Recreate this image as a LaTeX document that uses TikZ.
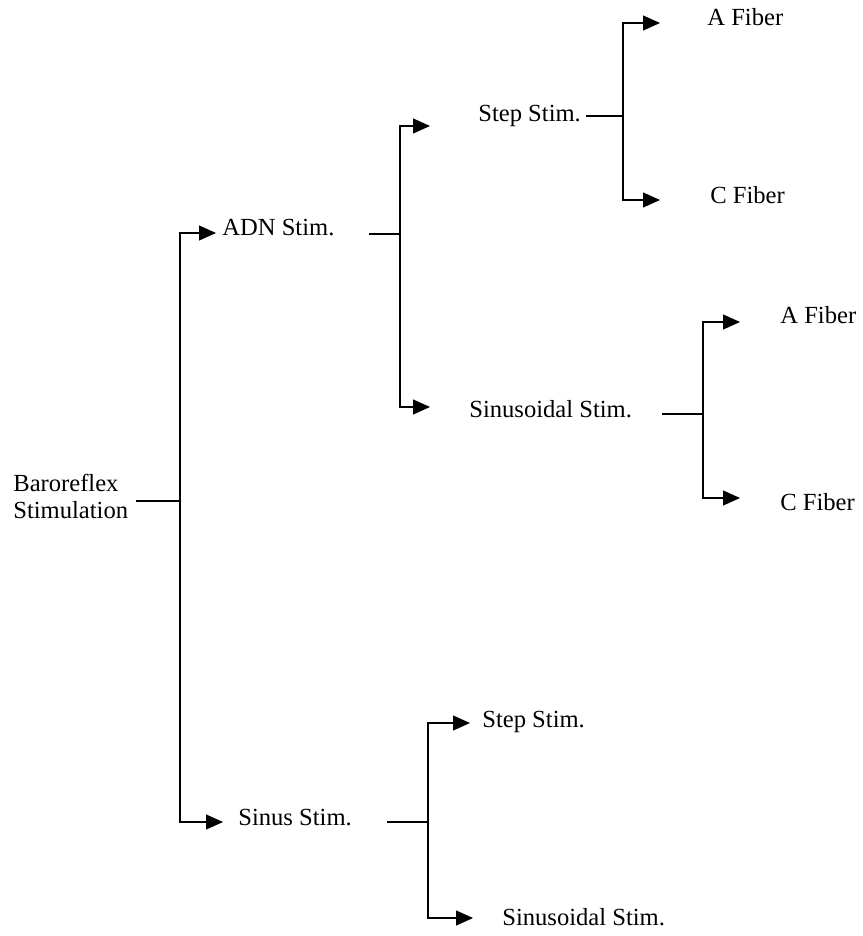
\documentclass[tikz,border=0pt]{standalone}
\usepackage{fontspec}
\setmainfont{Liberation Serif}
\usetikzlibrary{arrows.meta, positioning}
\tikzset{
  baro/text/.style  = {anchor=west, inner sep=0pt, text height=0.66em, text depth=0pt,
                       font=\fontsize{14}{15.5}\selectfont, text=black},
  baro/line/.style  = {line width=0.6pt, draw=black},
  baro/arrow/.style = {baro/line, -{Triangle[length=0.34cm, width=0.3cm]}},
}

\begin{document}
\begin{tikzpicture}[x=0.02cm, y=-0.02cm]
      \useasboundingbox (0,0) rectangle (862,936);
      % --- Labels (left to right, level by level) ---
      \node[baro/text, align=left] (baro)  at (13,513)  {Baroreflex\\Stimulation};
      \node[baro/text] (adn)   at (222,230) {ADN Stim.};
      \node[baro/text] (sinus) at (238,820) {Sinus Stim.};
      \node[baro/text] (step1) at (478,116) {Step Stim.};
      \node[baro/text] (sinu1) at (469,412) {Sinusoidal Stim.};
      \node[baro/text] (step2) at (482,722) {Step Stim.};
      \node[baro/text] (sinu2) at (502,920) {Sinusoidal Stim.};
      \node[baro/text] (afib1) at (707,20)  {A Fiber};
      \node[baro/text] (cfib1) at (710,198) {C Fiber};
      \node[baro/text] (afib2) at (780,318) {A Fiber};
      \node[baro/text] (cfib2) at (780,505) {C Fiber};
      % --- Branch points ---
      \coordinate (jBaro)  at (180,501);
      \coordinate (jADN)   at (400,234);
      \coordinate (jSinus) at (428,822);
      \coordinate (jStep1) at (623,116);
      \coordinate (jSinu1) at (703,414);
      % --- Arrow tips (just left of each label) ---
      \coordinate (tADN)   at (216,233);
      \coordinate (tSinus) at (223,822);
      \coordinate (tStep1) at (430,126);
      \coordinate (tSinu1) at (430,407);
      \coordinate (tStep2) at (470,723);
      \coordinate (tSinu2) at (473,918);
      \coordinate (tAfib1) at (660,23);
      \coordinate (tCfib1) at (660,200);
      \coordinate (tAfib2) at (740,322);
      \coordinate (tCfib2) at (740,498);
      % --- Stubs from each parent label to its branch point ---
      \draw[baro/line] ([xshift=0.16cm]jBaro -| baro.east)   -- (jBaro);
      \draw[baro/line] ([xshift=0.68cm]jADN -| adn.east)     -- (jADN);
      \draw[baro/line] ([xshift=0.70cm]jSinus -| sinus.east) -- (jSinus);
      \draw[baro/line] ([xshift=0.10cm]jStep1 -| step1.east) -- (jStep1);
      \draw[baro/line] ([xshift=0.60cm]jSinu1 -| sinu1.east) -- (jSinu1);
      % --- Elbow arrows to the children ---
      \foreach \t in {tADN, tSinus}   \draw[baro/arrow] (jBaro)  |- (\t);
      \foreach \t in {tStep1, tSinu1} \draw[baro/arrow] (jADN)   |- (\t);
      \foreach \t in {tStep2, tSinu2} \draw[baro/arrow] (jSinus) |- (\t);
      \foreach \t in {tAfib1, tCfib1} \draw[baro/arrow] (jStep1) |- (\t);
      \foreach \t in {tAfib2, tCfib2} \draw[baro/arrow] (jSinu1) |- (\t);
    \end{tikzpicture}
\end{document}
